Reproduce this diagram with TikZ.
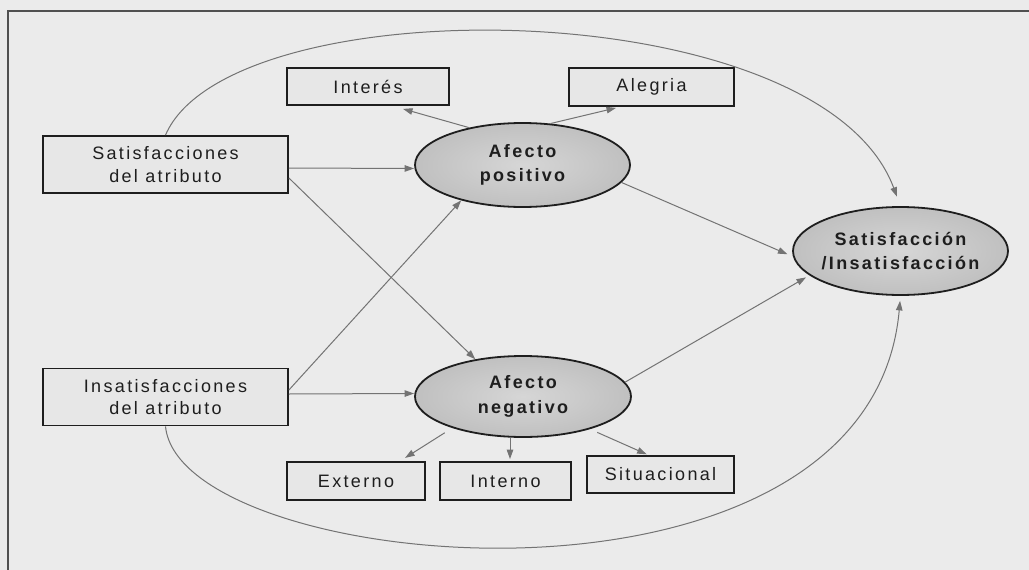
\documentclass[tikz,border=0pt]{standalone}
\usepackage{fontspec}
\setmainfont{Liberation Sans}
\newfontfamily\spaced[LetterSpace=13]{Liberation Sans}
\usetikzlibrary{shapes.geometric,arrows.meta}

\definecolor{paper}{HTML}{EBEBEB}
\definecolor{boxfill}{HTML}{E7E7E7}
\definecolor{ovalin}{HTML}{D6D6D6}
\definecolor{ovalout}{HTML}{C0C0C0}
\definecolor{linkgray}{HTML}{737373}
\definecolor{ink}{HTML}{1E1E1E}
\definecolor{framegray}{HTML}{505050}

\begin{document}
\begin{tikzpicture}[x=1pt,y=-1pt,
  box/.style={draw=ink, line width=1.8pt, fill=boxfill, rectangle, inner sep=0pt,
    align=center, text=ink, font=\spaced\fontsize{18}{22.5}\selectfont},
  oval/.style={draw=ink, line width=1.8pt, ellipse, inner sep=0pt,
    inner color=ovalin, outer color=ovalout},
  ovaltext/.style={align=center, text=ink, inner sep=0pt,
    font=\spaced\bfseries\fontsize{18}{24.5}\selectfont},
  link/.style={draw=linkgray, line width=1pt, -{Triangle[length=9.5pt,width=6.5pt]}},
]
% page and frame
\fill[paper] (0,0) rectangle (1029,570);
\useasboundingbox (0,0) rectangle (1029,570);
\draw[framegray, line width=1.5pt] (8,570) -- (8,11) -- (1029,11);

% antecedents
\node[box, minimum width=245pt, minimum height=57pt] (sat) at (165.5,164.5)
  {Satisfacciones\\del atributo};
\node[box, minimum width=245pt, minimum height=57pt] (insat) at (165.5,397)
  {Insatisfacciones\\del atributo};

% affect ellipses
\node[oval, minimum width=215pt, minimum height=84pt] (ap) at (522.5,165) {};
\node[ovaltext] (apt) at (ap.center) {Afecto\\positivo};
\node[oval, minimum width=216pt, minimum height=81pt] (an) at (523,396.5) {};
\node[ovaltext] (ant) at (an.center) {Afecto\\negativo};
\node[oval, minimum width=215pt, minimum height=88pt] (si) at (900.5,251) {};
\node[ovaltext] (sit-t) at (si.center) {Satisfacción\\/Insatisfacción};

% emotion boxes
\node[box, minimum width=162pt, minimum height=37pt] (int) at (368,86.5) {Interés};
\node[box, minimum width=165pt, minimum height=38pt] (ale) at (651.5,87) {Alegria};
\node[box, minimum width=138pt, minimum height=38pt] (ext) at (356,481) {Externo};
\node[box, minimum width=131pt, minimum height=38pt] (inn) at (505.5,481) {Interno};
\node[box, minimum width=147pt, minimum height=37pt] (sit) at (660.5,474.5) {Situacional};

% straight connectors
\draw[link] ([yshift=-3.5pt]sat.east) -- ([yshift=-3.5pt]ap.west);
\draw[link] ([yshift=-13.5pt]sat.east) -- (an.142);
\draw[link] ([yshift=7pt]insat.east) -- (ap.210);
\draw[link] ([yshift=3pt]insat.east) -- ([yshift=3pt]an.west);
\draw[link] (ap.145) -- ([xshift=35pt,yshift=-3pt]int.south);
\draw[link] (ap.56) -- ([xshift=-35.5pt,yshift=-1pt]ale.south);
\draw[link, shorten >=6pt] (ap.-10) -- (si.183);
\draw[link, shorten >=4pt] (an.8) -- (si.195);
\draw[link, shorten <=9pt, shorten >=6pt] (an.204) -- ([xshift=44pt]ext.north);
\draw[link] ([xshift=-13pt]an.south) -- ([xshift=4.5pt,yshift=2pt]inn.north);
\draw[link, shorten <=8pt, shorten >=2pt] (an.-26) -- ([xshift=-12pt]sit.north);

% direct paths to satisfaction
\draw[link, shorten >=10pt] (sat.north) .. controls (230,-15) and (820,-10) .. (si.north);
\draw[link, shorten >=5pt] (insat.south) .. controls (180,575) and (870,640) .. (si.south);
\end{tikzpicture}
\end{document}
